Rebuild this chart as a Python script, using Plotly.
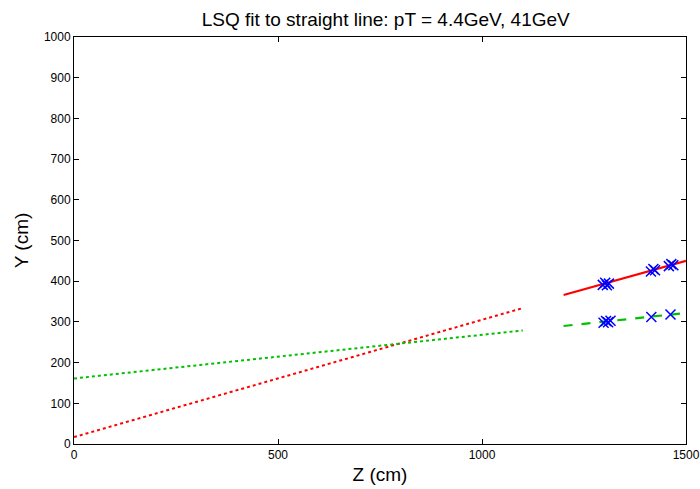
import plotly.graph_objects as go

# Extrapolated fit lines (dotted)
red_extrap_z = [0, 1100]
red_extrap_y = [17, 334]
green_extrap_z = [0, 1100]
green_extrap_y = [161, 279]

# Fit lines over measurement region
red_fit_z = [1200, 1500]
red_fit_y = [366, 450]
green_fit_z = [1200, 1500]
green_fit_y = [290, 322]

# Measured hits
hits_z = [1296, 1302, 1306, 1311, 1414, 1420, 1424, 1458, 1464, 1469,
          1298, 1304, 1309, 1315, 1415, 1462]
hits_y = [391, 396, 390, 394, 424, 430, 427, 437, 442, 439,
          298, 302, 299, 303, 312, 318]

BLUE = "#0000FF"
RED = "#FF0000"
GREEN = "#00C000"
FONT = "Liberation Sans, Arial"

fig = go.Figure()
fig.add_trace(go.Scatter(x=red_extrap_z, y=red_extrap_y, mode="lines",
                         line=dict(color=RED, width=2, dash="dot")))
fig.add_trace(go.Scatter(x=green_extrap_z, y=green_extrap_y, mode="lines",
                         line=dict(color=GREEN, width=2, dash="dot")))
fig.add_trace(go.Scatter(x=red_fit_z, y=red_fit_y, mode="lines",
                         line=dict(color=RED, width=2.2)))
fig.add_trace(go.Scatter(x=green_fit_z, y=green_fit_y, mode="lines",
                         line=dict(color=GREEN, width=2.2, dash="dash")))
fig.add_trace(go.Scatter(x=hits_z, y=hits_y, mode="markers",
                         marker=dict(symbol="x-thin-open", size=10,
                                     line=dict(color=BLUE, width=1.5), color=BLUE)))

axis_common = dict(showgrid=False, zeroline=False, showline=True, linecolor="black",
                   linewidth=1, mirror="ticks", ticks="inside", ticklen=5,
                   tickcolor="black", automargin=False,
                   tickfont=dict(family=FONT, size=12, color="black"))

fig.update_layout(
    width=700, height=489,
    margin=dict(l=74, r=14, t=37, b=45),
    paper_bgcolor="white", plot_bgcolor="white",
    showlegend=False,
    title=dict(text="LSQ fit to straight line: pT = 4.4GeV, 41GeV", x=0.551, xanchor="center",
               y=0.960, yanchor="middle",
               font=dict(family=FONT, size=19, color="black")),
    xaxis=dict(range=[0, 1500], tickvals=[0, 500, 1000, 1500],
               title=dict(text="Z (cm)", standoff=6,
                          font=dict(family=FONT, size=19, color="black")),
               **axis_common),
    yaxis=dict(range=[0, 1000], dtick=100,
               title=dict(text="Y (cm)", standoff=10,
                          font=dict(family=FONT, size=19, color="black")),
               **axis_common),
)

fig.write_html("out.html")
